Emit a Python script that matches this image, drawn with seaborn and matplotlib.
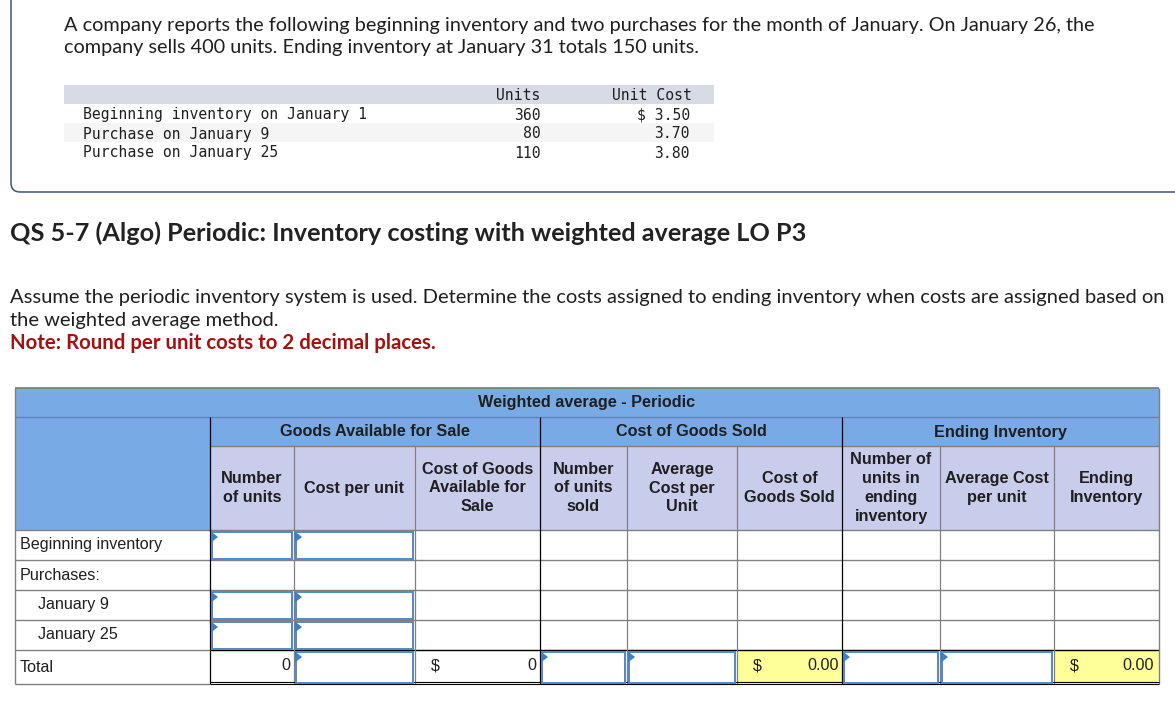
import matplotlib
matplotlib.use("Agg")
import matplotlib.pyplot as plt
from matplotlib.patches import Rectangle, FancyBboxPatch, Polygon
import seaborn as sns

# --- content ---
intro_lines = ["A company reports the following beginning inventory and two purchases for the month of January. On January 26, the",
               "company sells 400 units. Ending inventory at January 31 totals 150 units."]
given_items = ["Beginning inventory on January 1", "Purchase on January 9", "Purchase on January 25"]
given_units = ["360", "80", "110"]
given_costs = ["$ 3.50", "3.70", "3.80"]
question_title = "QS 5-7 (Algo) Periodic: Inventory costing with weighted average LO P3"
body_lines = ["Assume the periodic inventory system is used. Determine the costs assigned to ending inventory when costs are assigned based on",
              "the weighted average method."]
note_line = "Note: Round per unit costs to 2 decimal places."
table_title = "Weighted average - Periodic"
group_labels = ["Goods Available for Sale", "Cost of Goods Sold", "Ending Inventory"]
col_labels = ["Number\nof units", "Cost per unit", "Cost of Goods\nAvailable for\nSale", "Number\nof units\nsold",
              "Average\nCost per\nUnit", "Cost of\nGoods Sold", "Number of\nunits in\nending\ninventory",
              "Average Cost\nper unit", "Ending\nInventory"]
row_labels = ["Beginning inventory", "Purchases:", "January 9", "January 25", "Total"]
row_indent = [0, 0, 1, 1, 0]

# --- grid ---
xe = [15, 210, 294, 415, 540, 627, 737, 842, 940, 1054, 1159]
ye = [388, 417, 446, 530, 560, 590, 620, 650, 684]

sns.set_theme(style="white")
fig = plt.figure(figsize=(11.75, 7.05), dpi=100)
ax = fig.add_axes([0, 0, 1, 1])
ax.set_xlim(0, 1175); ax.set_ylim(705, 0); ax.axis("off")

SANS, MONO, ARIAL = "Lato", "DejaVu Sans Mono", "Liberation Sans"
INK = "#1f1f1f"; GRID = "#808080"; BLUE = "#78abe6"; LAV = "#c9cdec"; YEL = "#ffff99"; INP = "#5288c8"

def rect(x0, y0, x1, y1, fc, ec="none", lw=0, z=1):
    ax.add_patch(Rectangle((x0, y0), x1 - x0, y1 - y0, fc=fc, ec=ec, lw=lw, zorder=z))
def line(x0, y0, x1, y1, c=GRID, lw=1.0, z=3):
    ax.plot([x0, x1], [y0, y1], color=c, lw=lw, zorder=z, solid_capstyle="butt")

# outlined card at the top
ax.add_patch(FancyBboxPatch((11, -40), 1300, 232, boxstyle="round,pad=0,rounding_size=9",
                            fc="white", ec="#36567a", lw=1.1, zorder=0))
for i, s in enumerate(intro_lines):
    ax.text(64.5, 25 + 23 * i, s, fontfamily=SANS, fontsize=14.3, color=INK, va="center", ha="left")

# given data table
rect(64, 85, 714, 104, "#d7dbe6")
rect(64, 123, 714, 142, "#f5f5f5")
ax.text(540, 95.5, "Units", fontfamily=MONO, fontsize=10.6, color=INK, ha="right", va="center")
ax.text(692, 95.5, "Unit Cost", fontfamily=MONO, fontsize=10.6, color=INK, ha="right", va="center")
for i in range(3):
    y = 115 + 19 * i
    ax.text(83, y, given_items[i], fontfamily=MONO, fontsize=10.6, color=INK, ha="left", va="center")
    ax.text(541, y, given_units[i], fontfamily=MONO, fontsize=10.6, color=INK, ha="right", va="center")
    ax.text(690, y, given_costs[i], fontfamily=MONO, fontsize=10.6, color=INK, ha="right", va="center")

ax.text(10, 233, question_title, fontfamily=SANS, fontweight="bold", fontsize=18.2, color="#222222", va="center")
for i, s in enumerate(body_lines):
    ax.text(10, 297.5 + 23 * i, s, fontfamily=SANS, fontsize=14.54, color=INK, va="center")
ax.text(10, 343, note_line, fontfamily=SANS, fontweight="bold", fontsize=14.63, color="#a80f0f", va="center")

# worksheet header fills
rect(xe[0], ye[0], xe[-1], ye[3], BLUE)
rect(xe[1], ye[2], xe[-1], ye[3], LAV)
rect(xe[6], ye[7], xe[7], ye[8], YEL)
rect(xe[9], ye[7], xe[10], ye[8], YEL)

# horizontal rules
line(xe[0], ye[0], xe[-1], ye[0], lw=1.3)
line(xe[0], ye[1], xe[-1], ye[1])
line(xe[1], ye[2], xe[-1], ye[2])
for y in ye[3:8]:
    line(xe[0], y, xe[-1], y)
line(xe[0], ye[8], xe[1], ye[8])
line(xe[1], ye[7], xe[-1], ye[7], c="black", lw=0.9)
line(xe[1], ye[8] - 2, xe[-1], ye[8] - 2, c="black", lw=0.8, z=4)
line(xe[1], ye[8], xe[-1], ye[8], c="black", lw=0.8, z=4)

# vertical rules
line(xe[0], ye[0], xe[0], ye[8])
line(xe[-1], ye[0], xe[-1], ye[8])
for k in (2, 3, 5, 6, 8, 9):
    line(xe[k], ye[2], xe[k], ye[8], lw=0.9)
for k in (1, 4, 7):
    line(xe[k], ye[1], xe[k], ye[8], c="black", lw=0.9, z=4)

# header text
bold = dict(fontfamily=ARIAL, fontweight="bold", color=INK, ha="center", va="center")
ax.text(587, 403, table_title, fontsize=11.7, **bold)
for (a, b), s in zip([(1, 4), (4, 7), (7, 10)], group_labels):
    ax.text((xe[a] + xe[b]) / 2, 432, s, fontsize=11.7, **bold)
for k, s in enumerate(col_labels):
    ax.text((xe[k + 1] + xe[k + 2]) / 2, 488, s, fontsize=11.7, linespacing=1.33, **bold)

# row labels
for i, s in enumerate(row_labels):
    ax.text(38.5 if row_indent[i] else 20, (ye[i + 3] + ye[i + 4]) / 2 + (0.5 if i == 4 else 0), s,
            fontfamily=ARIAL, fontsize=11.6, color=INK, ha="left", va="center")

# input cells
def input_cell(c, r):
    x0, x1, y0, y1 = xe[c] + 2, xe[c + 1] - 2, ye[r] + 1.5, ye[r + 1] - 1.5
    ax.add_patch(Rectangle((x0, y0), x1 - x0, y1 - y0, fc="white", ec=INP, lw=1.4, zorder=5))
    ax.add_patch(Polygon([(x0 - 1, y0), (x0 + 6, y0 + 5.5), (x0 - 1, y0 + 11)], fc="#3f7fc4", ec="none", zorder=6))
for r in (3, 5, 6):
    input_cell(1, r); input_cell(2, r)
for c in (2, 4, 5, 7, 8):
    input_cell(c, 7)

# total row values
num = dict(fontfamily=ARIAL, fontsize=11.6, color=INK, va="center", zorder=7)
ty = 665.5
ax.text(xe[2] - 4, ty, "0", ha="right", **num)
ax.text(431, ty, "$", ha="left", **num)
ax.text(xe[4] - 4, ty, "0", ha="right", **num)
ax.text(753, ty, "$", ha="left", **num)
ax.text(xe[7] - 3, ty, "0.00", ha="right", **num)
ax.text(1070, ty, "$", ha="left", **num)
ax.text(xe[10] - 5, ty, "0.00", ha="right", **num)

fig.savefig("out.png", dpi=100, facecolor="white")
